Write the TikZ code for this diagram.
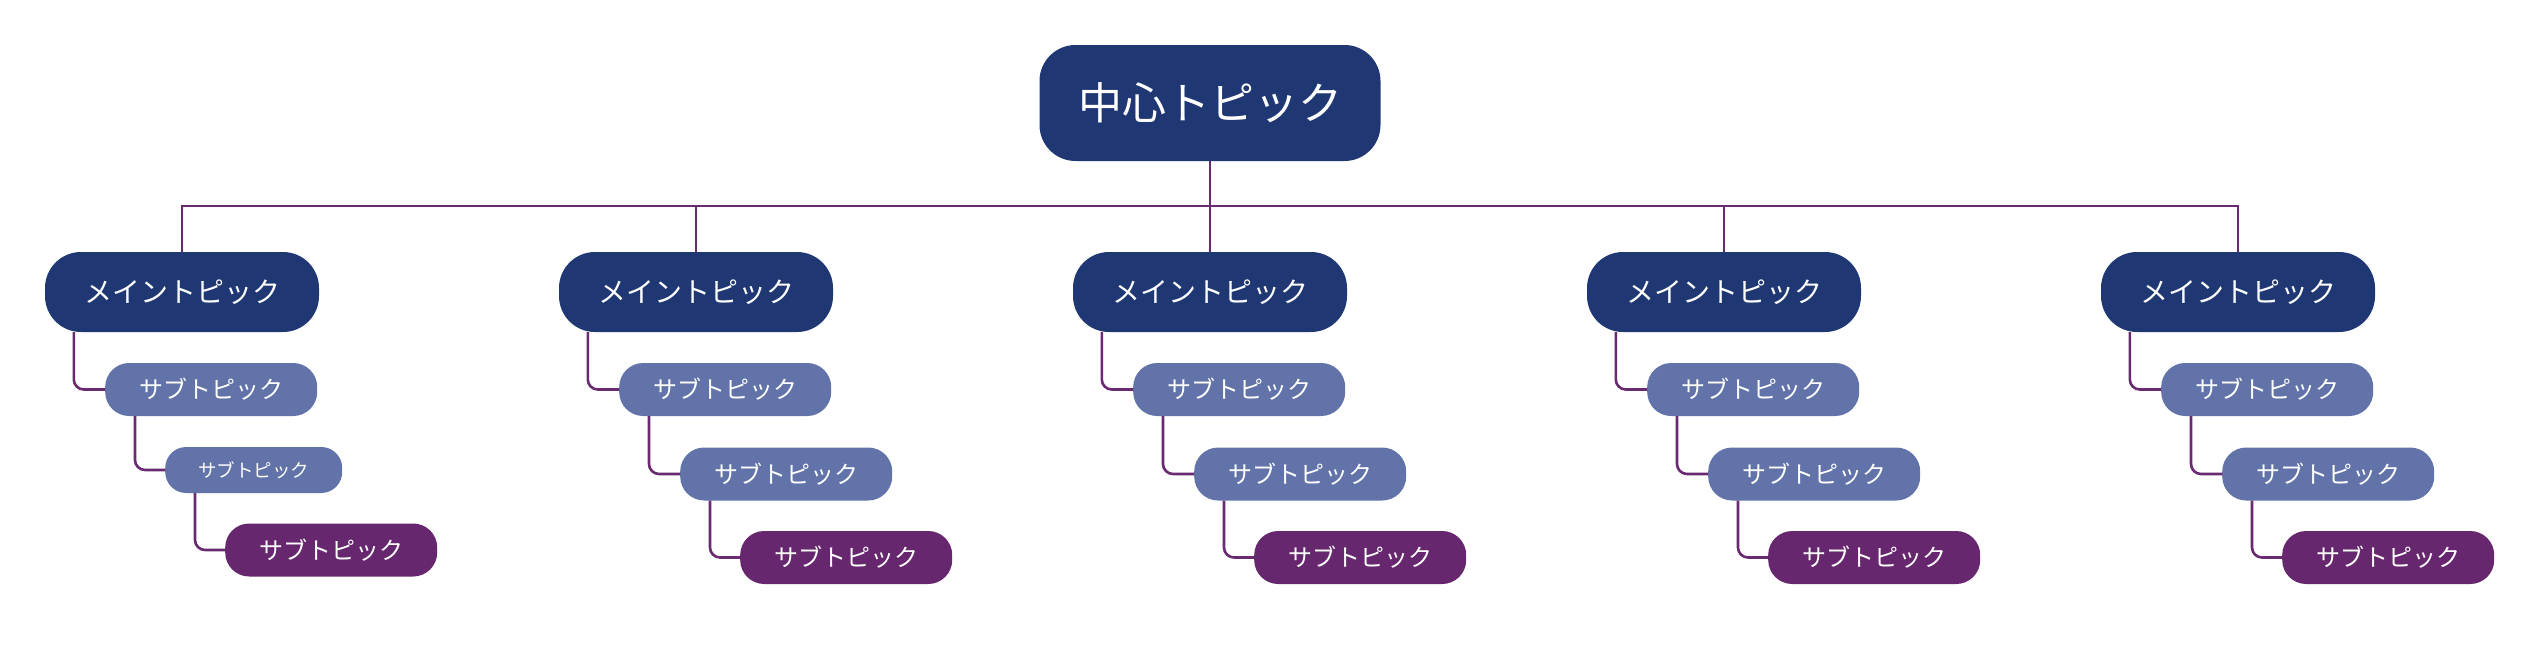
\documentclass[tikz,border=0pt]{standalone}
\usepackage{fontspec}
\setmainfont{Noto Sans CJK JP}
\begin{document}
\begin{tikzpicture}[x=1pt,y=-1pt,
  box/.style={text=white,inner sep=0pt,align=center},
  center/.style={box,fill=navy,minimum width=341pt,minimum height=116pt,rounded corners=36pt,font=\fontsize{44}{50}\selectfont},
  main/.style={box,fill=navy,minimum width=274pt,minimum height=80pt,rounded corners=36pt,font=\fontsize{28}{32}\selectfont},
  sub/.style={box,fill=subc,minimum width=212pt,minimum height=53pt,rounded corners=24pt,font=\fontsize{24}{28}\selectfont},
  small/.style={box,fill=subc,minimum width=177pt,minimum height=46pt,rounded corners=21pt,font=\fontsize{18.5}{22}\selectfont},
  leaf/.style={box,fill=purp,minimum width=212pt,minimum height=53pt,rounded corners=24pt,font=\fontsize{24}{28}\selectfont},
  link/.style={draw=linec,line width=2.6pt,rounded corners=10pt}]
\definecolor{navy}{HTML}{1F3873}
\definecolor{subc}{HTML}{6173A8}
\definecolor{purp}{HTML}{67276E}
\definecolor{linec}{HTML}{6A2A72}
\useasboundingbox (0,0) rectangle (2541,645);
\node[center] (c) at (1210,103) {中心トピック};
\coordinate (bus) at (1210,206);
\foreach \i/\x in {1/182,2/696,3/1210,4/1724,5/2238}{
  \node[main] (m\i) at (\x,292) {メイントピック};
  \node[sub,anchor=west] (s\i) at (\x-137+60,389.5) {サブトピック};
}
\node[small,anchor=west] (t1) at (165,470) {サブトピック};
\node[leaf,anchor=west] (l1) at (225,550) {サブトピック};
\foreach \i/\x in {2/696,3/1210,4/1724,5/2238}{
  \node[sub,anchor=west] (t\i) at (\x-137+121,474) {サブトピック};
  \node[leaf,anchor=west] (l\i) at (\x-137+181,557.5) {サブトピック};
}
\draw[link,rounded corners=0pt] (c.south) -- (bus);
\draw[link,rounded corners=0pt] (m1.north) |- (m5.north |- bus) -- (m5.north);
\foreach \i in {2,3,4}{\draw[link] (m\i.north) -- (m\i.north |- bus);}
\foreach \i in {1,...,5}{
  \draw[link] ([xshift=29pt]m\i.south west) |- (s\i.west);
  \draw[link] ([xshift=30pt]s\i.south west) |- (t\i.west);
  \draw[link] ([xshift=30pt]t\i.south west) |- (l\i.west);
}
\end{tikzpicture}
\end{document}
